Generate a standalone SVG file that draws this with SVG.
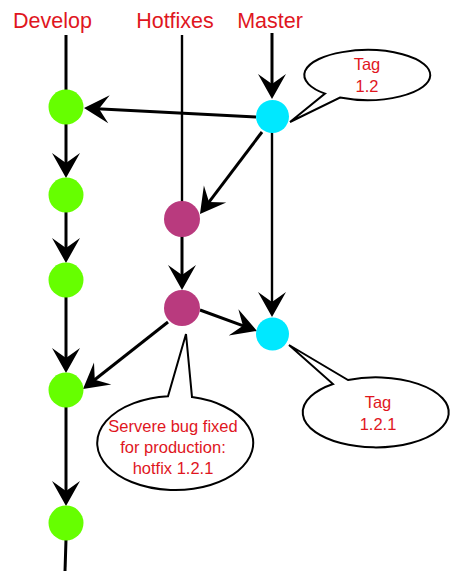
<svg xmlns="http://www.w3.org/2000/svg" width="462" height="579" viewBox="0 0 462 579">
<style>
.hdr{font-family:"Liberation Sans",Arial,sans-serif;font-size:21.5px;fill:#e0161e;text-anchor:middle}
.lbl{font-family:"Liberation Sans",Arial,sans-serif;font-size:16.5px;fill:#e0161e;text-anchor:middle}
.edge{stroke:#000;stroke-width:3;fill:none}
.thin{stroke:#000;stroke-width:2.4;fill:none}
.bubble{fill:#fff;stroke:#000;stroke-width:2}
.dev{fill:#66ff00}
.hot{fill:#b93a7e}
.mas{fill:#00e8ff}
</style>
<defs>
<marker id="arr" viewBox="-26 -15 27 30" refX="-8" refY="0" markerWidth="27" markerHeight="30" markerUnits="userSpaceOnUse" orient="auto">
<path d="M0,0 L-25,-14 L-15,0 L-25,14 Z" fill="#000"/>
</marker>
</defs>
<g id="labels">
<text class="hdr" x="52.5" y="28">Develop</text>
<text class="hdr" x="175" y="28">Hotfixes</text>
<text class="hdr" x="270" y="28">Master</text>
</g>
<g id="connectors">
<line class="edge" x1="66" y1="35" x2="66" y2="90"/>
<line class="edge" x1="66" y1="124" x2="66" y2="170" marker-end="url(#arr)"/>
<line class="edge" x1="66" y1="212" x2="66" y2="255" marker-end="url(#arr)"/>
<line class="edge" x1="66" y1="297" x2="66" y2="365" marker-end="url(#arr)"/>
<line class="edge" x1="66" y1="407" x2="66" y2="498" marker-end="url(#arr)"/>
<line class="edge" x1="66" y1="540" x2="65" y2="571"/>
<line class="thin" x1="182" y1="35" x2="182" y2="202"/>
<line class="edge" x1="182" y1="236" x2="182" y2="282" marker-end="url(#arr)"/>
<line class="edge" x1="272" y1="33" x2="272" y2="91" marker-end="url(#arr)"/>
<line class="thin" x1="272" y1="132" x2="272" y2="309" marker-end="url(#arr)"/>
<line class="edge" x1="256" y1="117" x2="92" y2="108.4" marker-end="url(#arr)"/>
<line class="edge" x1="262" y1="132" x2="204.8" y2="207.6" marker-end="url(#arr)"/>
<line class="edge" x1="200" y1="310" x2="249.5" y2="328.2" marker-end="url(#arr)"/>
<line class="edge" x1="168" y1="322" x2="89.3" y2="384" marker-end="url(#arr)"/>
</g>
<g id="develop-nodes">
<circle id="d1" class="dev" cx="66" cy="107" r="17.5"/>
<circle id="d2" class="dev" cx="66" cy="195" r="17.5"/>
<circle id="d3" class="dev" cx="66" cy="280" r="17.5"/>
<circle id="d4" class="dev" cx="66" cy="390" r="17.5"/>
<circle id="d5" class="dev" cx="66" cy="523" r="17.5"/>
</g>
<g id="hotfix-nodes">
<circle id="h1" class="hot" cx="182" cy="219" r="18"/>
<circle id="h2" class="hot" cx="182" cy="308" r="18"/>
</g>
<g id="master-nodes">
<circle id="m1" class="mas" cx="272.5" cy="116.5" r="16.5"/>
<circle id="m2" class="mas" cx="272.5" cy="334" r="16.5"/>
</g>
<g id="tag12">
<path class="bubble" d="M325,93.6 A63,25 0 1 1 340,97.6 L290,122 Z"/>
<text class="lbl" x="367" y="70">Tag</text>
<text class="lbl" x="367" y="92">1.2</text>
</g>
<g id="tag121">
<path class="bubble" d="M348,380 A73,35 0 1 1 333,384 L289,345 Z"/>
<text class="lbl" x="378" y="408">Tag</text>
<text class="lbl" x="378" y="430">1.2.1</text>
</g>
<g id="bugnote">
<path class="bubble" d="M192,397.1 A78,47 0 1 1 168,396.2 L186,334 Z"/>
<text class="lbl" x="173" y="432">Servere bug fixed</text>
<text class="lbl" x="173" y="453">for production:</text>
<text class="lbl" x="173" y="474">hotfix 1.2.1</text>
</g>
</svg>
